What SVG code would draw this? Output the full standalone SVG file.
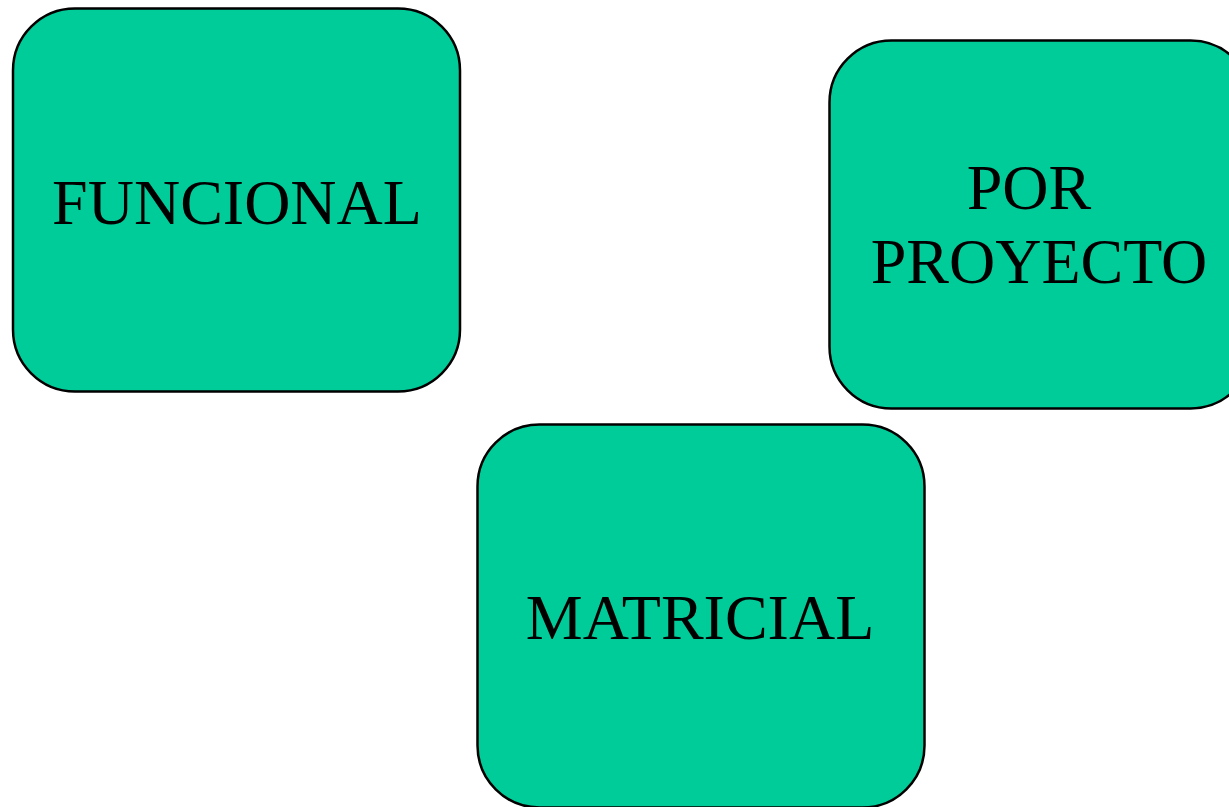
<svg xmlns="http://www.w3.org/2000/svg" width="1229" height="807" viewBox="0 0 1229 807">
<style>
.box{fill:#00CC99;stroke:#000;stroke-width:2.5}
.lbl{font-family:"Liberation Serif","Times New Roman",serif;font-size:64px;fill:#000;text-anchor:middle}
</style>
<rect width="1229" height="807" fill="#fff"/>
<g id="funcional">
<rect class="box" x="13" y="8.5" width="447" height="383" rx="62" ry="62"/>
<text class="lbl" x="237" y="224">FUNCIONAL</text>
</g>
<g id="por-proyecto">
<rect class="box" x="829.5" y="40.5" width="423" height="368" rx="62" ry="62"/>
<text class="lbl" x="1029" y="209">POR</text>
<text class="lbl" x="1039" y="283">PROYECTO</text>
</g>
<g id="matricial">
<rect class="box" x="477.5" y="424.5" width="447" height="383" rx="62" ry="62"/>
<text class="lbl" x="700" y="639">MATRICIAL</text>
</g>
<g id="connectors"></g>
</svg>
